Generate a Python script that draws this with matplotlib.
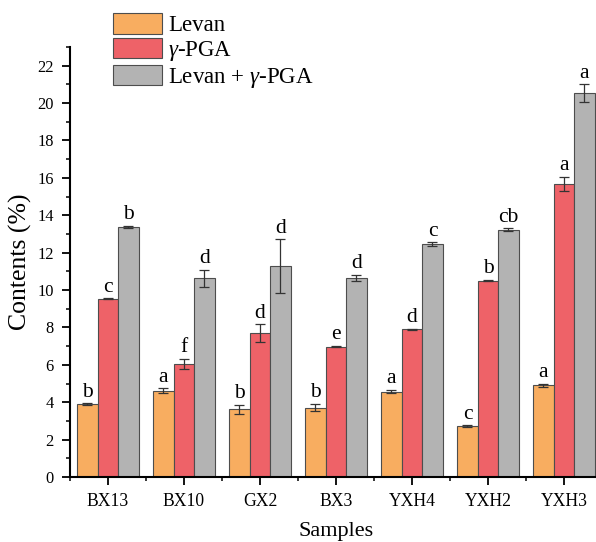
import numpy as np
import matplotlib
matplotlib.use("Agg")
import matplotlib.pyplot as plt
from matplotlib.ticker import MultipleLocator

plt.rcParams['font.family'] = ['Liberation Serif', 'DejaVu Serif']
plt.rcParams['mathtext.fontset'] = 'custom'
plt.rcParams['mathtext.it'] = 'Liberation Serif:italic'
plt.rcParams['mathtext.rm'] = 'Liberation Serif'

# data
samples = ['BX13', 'BX10', 'GX2', 'BX3', 'YXH4', 'YXH2', 'YXH3']
levan = [3.89, 4.62, 3.62, 3.71, 4.57, 2.73, 4.92]
levan_err = [0.05, 0.12, 0.24, 0.19, 0.08, 0.03, 0.08]
pga = [9.53, 6.05, 7.69, 6.98, 7.90, 10.51, 15.69]
pga_err = [0.02, 0.27, 0.48, 0.02, 0.04, 0.04, 0.37]
both = [13.37, 10.62, 11.28, 10.65, 12.46, 13.22, 20.54]
both_err = [0.07, 0.46, 1.43, 0.18, 0.10, 0.08, 0.46]
levan_sig = ['b', 'a', 'b', 'b', 'a', 'c', 'a']
pga_sig = ['c', 'f', 'd', 'e', 'd', 'b', 'a']
both_sig = ['b', 'd', 'd', 'd', 'c', 'cb', 'a']

labels = ['Levan', r'$\it{\gamma}$-PGA', r'Levan + $\it{\gamma}$-PGA']
colors = ['#F8AD60', '#EE6268', '#B3B3B3']

fig = plt.figure(figsize=(5.96, 5.42), dpi=100)
ax = fig.add_axes([0.1174, 0.1199, 0.8926, 0.7934])

x = np.arange(len(samples))
w = 0.27
series = [(levan, levan_err, levan_sig), (pga, pga_err, pga_sig), (both, both_err, both_sig)]
handles = []
for i, (vals, errs, sig) in enumerate(series):
    pos = x + (i - 1) * w
    b = ax.bar(pos, vals, w, color=colors[i], edgecolor='#4d4d4d', linewidth=0.8,
               yerr=errs, capsize=3.5,
               error_kw=dict(ecolor='#333333', elinewidth=0.9, capthick=0.9))
    handles.append(b)
    for p, v, e, s in zip(pos, vals, errs, sig):
        ax.annotate(s, (p, v + e), xytext=(0, 1.2), textcoords='offset points',
                    ha='center', va='bottom', fontsize=15.5)

ax.set_xlim(-0.5, 6.5)
ax.set_ylim(0, 23)
ax.set_xticks(x)
ax.set_xticklabels(samples)
ax.xaxis.set_minor_locator(MultipleLocator(1, offset=0.5))
ax.yaxis.set_major_locator(MultipleLocator(2))
ax.yaxis.set_minor_locator(MultipleLocator(1))
ax.tick_params(which='major', length=5.5, width=1.3)
ax.tick_params(which='minor', length=2.8, width=1.1)
ax.tick_params(axis='x', which='major', pad=6, labelsize=12.7)
ax.tick_params(axis='y', which='major', pad=6, labelsize=11.8)
for side in ['top', 'right']:
    ax.spines[side].set_visible(False)
for side in ['left', 'bottom']:
    ax.spines[side].set_linewidth(1.5)

ax.set_xlabel('Samples', fontsize=16, labelpad=8.5)
ax.set_ylabel('Contents (%)', fontsize=18.5, labelpad=4)

fig.legend(handles, labels, loc='upper left', bbox_to_anchor=(0.19, 0.976),
           frameon=False, fontsize=16.5, handlelength=2.14, handleheight=1.0,
           labelspacing=0.08, handletextpad=0.25, borderaxespad=0, borderpad=0)

fig.savefig('out.png', dpi=100)
